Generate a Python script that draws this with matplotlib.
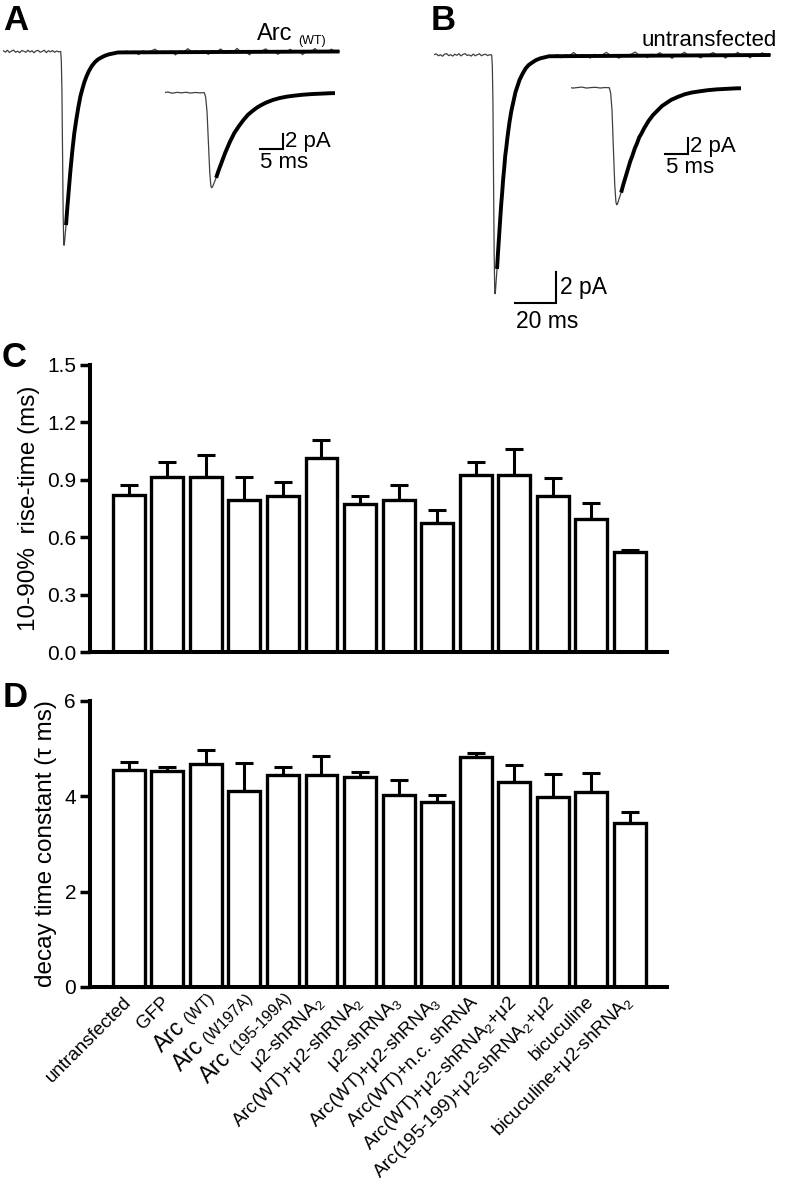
import numpy as np
import matplotlib
matplotlib.use('Agg')
import matplotlib.pyplot as plt
from matplotlib.transforms import offset_copy, blended_transform_factory

plt.rcParams['font.family'] = ['Liberation Sans', 'DejaVu Sans']
plt.rcParams['mathtext.fontset'] = 'custom'
plt.rcParams['mathtext.rm'] = 'Liberation Sans'
plt.rcParams['mathtext.it'] = 'Liberation Sans:italic'
plt.rcParams['mathtext.bf'] = 'Liberation Sans:bold'

# ---------------- data ----------------
groups = ["untransfected", "GFP", "Arc (WT)", "Arc (W197A)", "Arc (195-199A)",
          r"μ2-shRNA$_2$", r"Arc(WT)+μ2-shRNA$_2$", r"μ2-shRNA$_3$",
          r"Arc(WT)+μ2-shRNA$_3$", "Arc(WT)+n.c. shRNA",
          r"Arc(WT)+μ2-shRNA$_2$+μ2", r"Arc(195-199)+μ2-shRNA$_2$+μ2",
          "bicuculine", r"bicuculine+μ2-shRNA$_2$"]
big_arc = [2, 3, 4]

rise_mean = [0.82, 0.915, 0.915, 0.795, 0.815, 1.015, 0.775, 0.795, 0.675, 0.925, 0.925, 0.815, 0.695, 0.525]
rise_sem = [0.055, 0.08, 0.117, 0.12, 0.075, 0.095, 0.04, 0.078, 0.066, 0.068, 0.138, 0.096, 0.086, 0.01]

decay_mean = [4.55, 4.53, 4.68, 4.12, 4.45, 4.45, 4.41, 4.02, 3.88, 4.82, 4.31, 3.98, 4.10, 3.44]
decay_sem = [0.17, 0.09, 0.29, 0.58, 0.17, 0.40, 0.10, 0.33, 0.15, 0.08, 0.35, 0.49, 0.40, 0.24]

rise_ticks = [0.0, 0.3, 0.6, 0.9, 1.2, 1.5]
decay_ticks = [0, 2, 4, 6]

# example mEPSC traces (time in ms from event onset, current in pA)
event_t = [0, 0.3, 0.6, 0.9, 1.2, 1.45, 1.6, 1.8, 2.0, 2.6, 3.1, 3.6, 4.1, 4.6, 5.1, 5.6,
           6.1, 6.6, 7.1, 7.6, 8.6, 9.6, 10.6, 11.6, 12.6, 13.6, 15.1, 16.6, 18.1, 19.6, 21.6, 23.6]
arc_event = [0, -0.6, -2.5, -6.5, -10.5, -12.3, -12.5, -12.4, -12.1, -11.2, -10.3, -9.5, -8.7, -7.9,
             -7.2, -6.5, -5.9, -5.3, -4.85, -4.4, -3.6, -2.9, -2.4, -1.95, -1.6, -1.3, -0.95, -0.7,
             -0.52, -0.4, -0.27, -0.18]
untr_event = [0, -0.7, -3.0, -8.0, -12.8, -15.0, -15.4, -15.3, -14.9, -13.8, -12.7, -11.7, -10.7, -9.7,
              -8.9, -8.0, -7.3, -6.5, -6.0, -5.4, -4.4, -3.6, -3.0, -2.4, -2.0, -1.6, -1.2, -0.86,
              -0.64, -0.5, -0.33, -0.22]
# smooth tail of the fitted decay (times in ms, current in pA)
tail_t = [28, 136]
arc_tail = [-0.06, 0.0]
untr_tail = [-0.08, 0.0]
# raw baseline before onset (1 ms samples from -28 ms) and after the event (2 ms samples from 24 ms)
arc_pre = [0.05, -0.04, 0.08, -0.06, 0.03, 0.09, -0.05, 0.02, -0.08, 0.06, 0.02, -0.05, 0.08, -0.03,
           0.05, -0.08, 0.04, 0.07, -0.05, 0.01, 0.08, -0.07, 0.05, -0.02, 0.06, -0.05, 0.03, -0.02]
arc_post = [-0.15, -0.10, -0.02, -0.12, 0.03, -0.05, 0.02, -0.20, 0.04, -0.03, 0.02, 0.15, -0.06, 0.01,
            -0.04, 0.03, -0.22, 0.02, -0.03, 0.18, -0.02, 0.04, -0.05, 0.02, -0.19, 0.05, -0.02, 0.16,
            -0.04, 0.02, -0.06, 0.20, -0.03, 0.04, -0.21, 0.02, -0.05, 0.03, 0.17, -0.04, 0.02, -0.18,
            0.04, -0.02, 0.14, -0.05, 0.03, -0.20, 0.02, -0.03, 0.19, -0.04, 0.02, -0.06, 0.15, -0.02, 0.0]
untr_pre = [0.03, 0.07, -0.05, 0.02, -0.08, 0.05, 0.09, -0.04, 0.02, -0.07, 0.05, -0.02, 0.08, -0.06,
            0.04, 0.09, -0.03, 0.01, -0.07, 0.06, -0.05, 0.02, 0.08, -0.05, 0.02, 0.05, -0.04, 0.02]
untr_post = [-0.18, -0.12, -0.04, -0.10, 0.03, -0.18, 0.02, -0.03, 0.16, -0.05, 0.02, -0.02, -0.20, 0.04,
             -0.03, 0.02, 0.17, -0.04, 0.03, -0.21, 0.02, -0.02, 0.05, 0.19, -0.03, 0.02, -0.17, 0.04,
             -0.02, 0.15, -0.05, 0.02, -0.22, 0.03, -0.02, 0.18, -0.04, 0.02, -0.05, -0.19, 0.03, 0.02,
             0.16, -0.03, 0.04, -0.20, 0.02, -0.04, 0.17, -0.02, 0.03, -0.18, 0.05, -0.02, 0.14, -0.03, 0.02]

# ---------------- figure ----------------
W, H = 788, 1181
fig = plt.figure(figsize=(W / 100, H / 100), dpi=100)


def px_axes(left, top, width, height):
    return fig.add_axes([left / W, 1 - (top + height) / H, width / W, height / H])


def ftext(x, y, s, **kw):
    return fig.text(x / W, 1 - y / H, s, **kw)


def trace_axes(left, top, width, height, x_on, y_base, px_ms, px_pa):
    ax = px_axes(left, top, width, height)
    ax.set_xlim((left - x_on) / px_ms, (left + width - x_on) / px_ms)
    ax.set_ylim(-(top + height - y_base) / px_pa, (y_base - top) / px_pa)
    ax.axis('off')
    ax.patch.set_alpha(0)
    return ax


def draw_trace(ax, pre, ev, post, tail):
    ev_t = np.array(event_t)
    ev = np.array(ev)
    # raw (thin) trace: baseline, event and noisy baseline afterwards
    t_raw = np.concatenate([np.arange(-len(pre), 0, 1.0), ev_t, 24 + 2.0 * np.arange(len(post))])
    i_raw = np.concatenate([pre, ev, post])
    ax.plot(t_raw, i_raw, color='0.25', lw=0.9, solid_joinstyle='round')
    # fitted decay (thick)
    m = ev_t >= 2.6
    t_fit = np.concatenate([ev_t[m], tail_t])
    i_fit = np.concatenate([ev[m], tail])
    ax.plot(t_fit, i_fit, color='black', lw=2.8, solid_capstyle='butt', solid_joinstyle='round')


def scale_bar(ax, t0, i0, dt, di, tlabel, ilabel, fs):
    ax.plot([t0, t0 + dt, t0 + dt], [i0, i0, i0 + di], color='black', lw=1.5, solid_joinstyle='miter')
    xr = ax.get_xlim()
    ax.text(t0 + dt + (xr[1] - xr[0]) * 0.012, i0 + di * 0.5, ilabel, fontsize=fs, ha='left', va='center')
    yr = ax.get_ylim()
    ax.text(t0 + (xr[1] - xr[0]) * 0.003, i0 - (yr[1] - yr[0]) * 0.025, tlabel, fontsize=fs, ha='left', va='top')


# Panel A
axA = trace_axes(3, 20, 337, 240, 60.7, 51.5, 2.05, 15.5)
draw_trace(axA, arc_pre, arc_event, arc_post, arc_tail)
axAi = trace_axes(165, 75, 170, 125, 204.3, 92.7, 4.55, 7.6)
draw_trace(axAi, arc_pre, arc_event, arc_post, arc_tail)
scale_bar(axAi, 12.2, -7.45, 5, 2, '5 ms', '2 pA', 16)

# Panel B
axB = trace_axes(434, 20, 337, 290, 491.7, 55, 2.05, 15.5)
draw_trace(axB, untr_pre, untr_event, untr_post, untr_tail)
scale_bar(axB, 11.4, -16.0, 20, 2, '20 ms', '2 pA', 16.5)
axBi = trace_axes(571, 70, 170, 145, 609.3, 87.7, 4.55, 7.6)
draw_trace(axBi, untr_pre, untr_event, untr_post, untr_tail)
scale_bar(axBi, 12.24, -8.68, 5, 2, '5 ms', '2 pA', 16)

ftext(3, 4, 'A', fontsize=25, fontweight='bold', ha='left', va='top')
ftext(431, 4, 'B', fontsize=25, fontweight='bold', ha='left', va='top')
ftext(257, 40, 'Arc', fontsize=17, ha='left', va='baseline')
ftext(298, 44, '(WT)', fontsize=9, ha='left', va='baseline')
ftext(777, 46, 'untransfected', fontsize=16, ha='right', va='baseline')

# Bar panels
x = np.arange(len(groups))


def bar_panel(ax, mean, sem, ticks, fmt, ylabel):
    ax.bar(x, mean, width=0.83, color='white', edgecolor='black', linewidth=2.4, zorder=2)
    ax.errorbar(x, mean, yerr=[np.zeros(len(mean)), sem], fmt='none', ecolor='black',
                elinewidth=2.2, capsize=6.5, capthick=2.2, zorder=1)
    ax.set_xlim(-1.01, 13.97)
    ax.set_ylim(ticks[0], ticks[-1])
    ax.set_yticks(ticks)
    ax.set_yticklabels([fmt.format(v) for v in ticks])
    for s in ['top', 'right']:
        ax.spines[s].set_visible(False)
    for s in ['left', 'bottom']:
        ax.spines[s].set_linewidth(2.9)
        ax.spines[s].set_capstyle('projecting')
    ax.tick_params(axis='y', direction='out', length=7, width=2.5, labelsize=15, pad=3)
    ax.set_ylabel(ylabel, fontsize=17.5, labelpad=5)


axC = px_axes(90, 365, 577, 287)
bar_panel(axC, rise_mean, rise_sem, rise_ticks, '{:.1f}', '10-90%  rise-time (ms)')
axC.set_xticks([])

axD = px_axes(90, 701, 577, 286)
bar_panel(axD, decay_mean, decay_sem, decay_ticks, '{:d}', 'decay time constant (τ ms)')
axD.set_xticks(x)
PAD = 9
axD.set_xticklabels(['' if k in big_arc else g for k, g in enumerate(groups)])
axD.tick_params(axis='x', length=0, pad=PAD)
for lab in axD.get_xticklabels():
    lab.set_rotation(45)
    lab.set_ha('right')
    lab.set_va('center')
    lab.set_rotation_mode('anchor')
    lab.set_fontsize(13.5)

# "Arc" labels with large "Arc" and small parenthetical part
renderer = fig.canvas.get_renderer()
btrans = blended_transform_factory(axD.transData, axD.transAxes)
c45 = np.cos(np.pi / 4)
SMALL, BIG = 11.5, 16.5
for k in big_arc:
    head, tail = groups[k].split(' ', 1)
    tmp = fig.text(0, 0, tail, fontsize=SMALL)
    w_pt = tmp.get_window_extent(renderer).width * 72 / fig.dpi
    tmp.remove()
    s0 = 5.0      # slide whole label up-right along its baseline
    shift = 1.0   # small part sits slightly low
    tr_small = offset_copy(btrans, fig=fig, x=(s0 + shift) * c45, y=-PAD + (s0 - shift) * c45, units='points')
    axD.text(k, 0, tail, transform=tr_small, fontsize=SMALL, rotation=45, rotation_mode='anchor',
             ha='right', va='center', clip_on=False)
    d = w_pt + 4.0 - s0
    tr_big = offset_copy(btrans, fig=fig, x=-d * c45, y=-PAD - d * c45, units='points')
    axD.text(k, 0, head, transform=tr_big, fontsize=BIG, rotation=45, rotation_mode='anchor',
             ha='right', va='center', clip_on=False)

ftext(2, 341, 'C', fontsize=25, fontweight='bold', ha='left', va='top')
ftext(3, 681, 'D', fontsize=25, fontweight='bold', ha='left', va='top')

fig.savefig('out.png', dpi=100)
